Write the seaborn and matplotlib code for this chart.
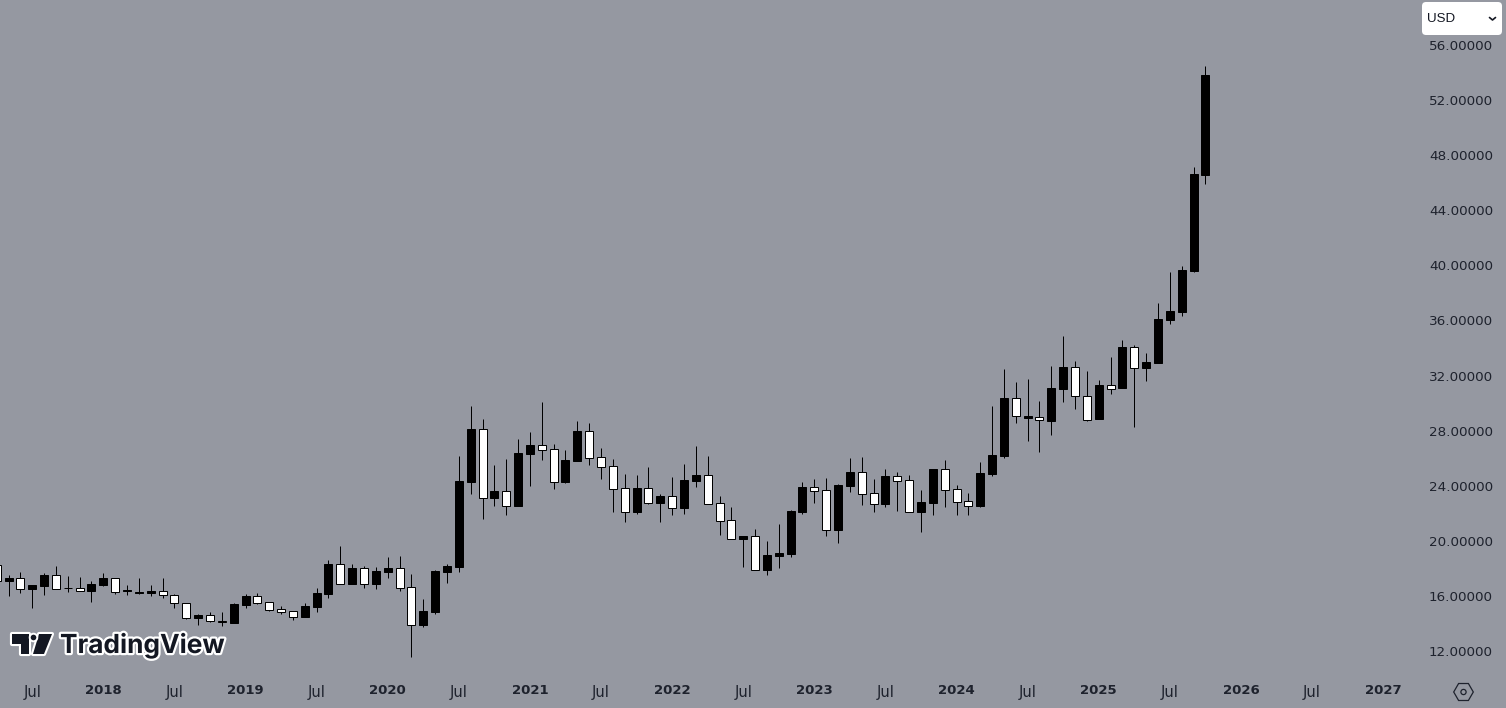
#!/usr/bin/python3
import pandas as pd
import numpy as np
import matplotlib
matplotlib.use('Agg')
import matplotlib.pyplot as plt
from matplotlib.patches import Polygon, Circle, RegularPolygon, FancyBboxPatch
from matplotlib.transforms import Affine2D
import matplotlib.patheffects as pe
import seaborn as sns

### DATA ###
months = pd.period_range('2017-04', '2025-10', freq='M')

opens = [18.24, 17.08, 17.28, 16.52, 16.72, 17.50, 16.54, 16.60, 16.36, 16.80, 17.28, 16.33, 16.21, 16.21, 16.33, 16.04, 15.46,
         14.42, 14.59, 14.18, 14.05, 15.36, 15.97, 15.54, 15.03, 14.88, 14.49, 15.22, 16.14, 18.30, 16.89, 18.00, 16.86, 17.74,
         18.00, 16.63, 13.89, 14.83, 17.74, 18.12, 24.27, 28.10, 23.11, 23.60, 22.53, 26.30, 26.94, 26.65, 24.27, 25.80, 27.95,
         26.06, 25.41, 23.81, 22.09, 23.81, 22.75, 23.23, 22.38, 24.34, 24.76, 22.72, 21.49, 20.13, 20.33, 17.88, 18.90, 19.04,
         22.09, 23.89, 23.67, 20.79, 23.98, 24.98, 23.45, 22.67, 24.69, 24.39, 22.09, 22.75, 25.19, 23.74, 22.87, 22.53, 24.85,
         26.16, 30.35, 28.92, 28.97, 28.70, 31.02, 32.60, 30.49, 28.85, 31.29, 31.10, 34.05, 32.55, 32.91, 36.03, 36.61, 39.59,
         46.56]
highs = [18.30, 17.52, 17.76, 16.82, 17.64, 18.17, 17.45, 17.37, 17.06, 17.66, 17.30, 16.77, 17.30, 16.77, 17.30, 16.14, 15.48,
         14.66, 14.81, 14.81, 15.46, 16.12, 16.21, 15.56, 15.27, 14.90, 15.49, 16.57, 18.61, 19.62, 18.32, 18.17, 18.10, 18.83,
         18.90, 17.59, 15.78, 17.88, 18.32, 26.16, 29.79, 28.85, 25.51, 25.94, 27.39, 27.90, 30.08, 27.03, 26.59, 28.70, 28.56,
         26.74, 25.94, 24.85, 24.78, 25.36, 23.40, 24.63, 25.58, 26.89, 26.16, 23.25, 22.46, 20.35, 20.86, 19.99, 21.22, 22.24,
         24.27, 24.49, 24.56, 24.13, 26.01, 26.09, 24.49, 25.22, 25.00, 24.78, 23.69, 25.24, 25.87, 24.05, 23.47, 25.72, 29.79,
         32.48, 31.53, 31.75, 30.15, 32.69, 34.87, 33.06, 32.33, 31.68, 33.35, 34.58, 34.22, 33.64, 37.27, 39.52, 39.95, 47.14,
         54.48]
lows = [16.90, 15.99, 16.23, 15.12, 16.09, 16.50, 16.28, 16.34, 15.58, 16.72, 16.16, 16.09, 16.16, 16.02, 15.87, 15.12, 14.32,
        13.91, 14.14, 13.82, 14.03, 15.12, 15.41, 14.90, 14.69, 14.25, 14.47, 14.83, 15.85, 16.87, 16.87, 16.57, 16.50, 17.30,
        16.36, 11.56, 13.74, 14.69, 16.94, 17.74, 23.40, 21.58, 22.53, 21.88, 22.51, 23.98, 25.87, 23.76, 24.20, 25.78, 25.51,
        24.49, 22.09, 21.37, 21.95, 22.67, 21.37, 21.88, 21.95, 23.91, 22.68, 20.42, 20.13, 18.10, 17.88, 17.52, 18.03, 18.83,
        21.95, 22.75, 20.35, 19.84, 23.54, 22.60, 22.09, 22.46, 22.17, 22.09, 20.64, 21.88, 22.46, 21.88, 21.88, 22.46, 24.71,
        26.01, 28.56, 27.25, 26.45, 27.68, 30.08, 29.57, 28.70, 28.83, 30.66, 31.08, 28.26, 31.60, 32.89, 35.74, 36.32, 39.52,
        45.91]
closes = [17.10, 17.30, 16.52, 16.79, 17.52, 16.52, 16.61, 16.36, 16.84, 17.28, 16.31, 16.41, 16.28, 16.36, 16.04, 15.46, 14.42,
          14.61, 14.16, 14.11, 15.41, 15.97, 15.51, 15.00, 14.85, 14.49, 15.27, 16.21, 18.32, 16.89, 18.03, 16.89, 17.81, 18.03,
          16.60, 13.91, 14.90, 17.81, 18.17, 24.34, 28.12, 23.13, 23.62, 22.53, 26.38, 26.96, 26.62, 24.29, 25.87, 27.97, 26.04,
          25.38, 23.78, 22.11, 23.84, 22.77, 23.25, 22.40, 24.42, 24.78, 22.70, 21.46, 20.15, 20.33, 17.90, 18.97, 19.12, 22.17,
          23.91, 23.62, 20.81, 24.05, 25.00, 23.42, 22.70, 24.71, 24.37, 22.11, 22.82, 25.22, 23.71, 22.84, 22.55, 24.92, 26.23,
          30.37, 29.09, 29.06, 28.79, 31.10, 32.62, 30.54, 28.79, 31.31, 31.05, 34.07, 32.57, 32.98, 36.11, 36.69, 39.66, 46.64,
          53.82]

price_ticks = [12, 16, 20, 24, 28, 32, 36, 40, 44, 48, 52, 56]
time_ticks = ['2017-07', '2018-01', '2018-07', '2019-01', '2019-07', '2020-01', '2020-07', '2021-01', '2021-07', '2022-01',
              '2022-07', '2023-01', '2023-07', '2024-01', '2024-07', '2025-01', '2025-07', '2026-01', '2026-07', '2027-01']

bg = '#9598A1'
ink = '#131722'
W, H = 1506, 708


def px():
    # pixel coords, origin top left like the screenshot
    return Affine2D().scale(1, -1).translate(0, H)


### BUILD ###
df = pd.DataFrame({'open': opens, 'high': highs, 'low': lows, 'close': closes})
df['idx'] = [(m - months[0]).n for m in months]
df['bottom'] = df[['open', 'close']].min(axis=1)
df['height'] = (df['open'] - df['close']).abs()
df['up'] = df['close'] >= df['open']

sns.set_theme(style='white', rc={'axes.facecolor': bg, 'figure.facecolor': bg, 'font.family': 'DejaVu Sans'})

fig = plt.figure(figsize=(W / 100, H / 100), dpi=100)
ax = fig.add_axes([0, 1 - 678 / H, 1416 / W, 678 / H])

ax.vlines(df['idx'], df['low'], df['high'], color='black', lw=0.72, zorder=1, snap=True)

# one barplot per colour, bottom has to line up with the subset
for is_up, color in [(True, 'black'), (False, 'white')]:
    part = df[df['up'] == is_up].reset_index(drop=True)
    spacing = part['idx'].diff().min()
    sns.barplot(data=part, x='idx', y='height', bottom=part['bottom'], color=color, native_scale=True,
                width=0.675 / spacing, errorbar=None, edgecolor='black', linewidth=0.72, saturation=1, ax=ax, zorder=2)

ax.set_xlim(0.28, 0.28 + 1416 / 11.85)
ax.set_ylim(10.04, 59.27)
ax.set_xlabel('')
ax.set_ylabel('')
sns.despine(ax=ax, left=True, bottom=True)

# axis labels
ax.yaxis.tick_right()
ax.set_yticks(price_ticks)
ax.set_yticklabels([f'{v:.5f}' for v in price_ticks])
ax.tick_params(axis='y', length=0, pad=9.4, labelsize=9.7, labelcolor='#1e222d')

tick_pos = [(pd.Period(t, 'M') - months[0]).n for t in time_ticks]
ax.set_xticks(tick_pos)
ax.set_xticklabels(['Jul' if t.endswith('-07') else t[:4] for t in time_ticks])
ax.tick_params(axis='x', length=0, pad=5.2, labelsize=10.6, labelcolor='#1e222d')
for lab, t in zip(ax.get_xticklabels(), time_ticks):
    if t.endswith('-01'):
        lab.set_fontweight('bold')
        lab.set_fontsize(9.5)
        lab.set_y(0.002)

# watermark
tr = px()
stroke = [pe.withStroke(linewidth=3.2, foreground='white')]
logo_t = [(12, 634), (29, 634), (29, 654), (20.5, 654), (20.5, 644), (12, 644)]
logo_s = [(39, 634), (52, 634), (44, 654), (33, 654)]
for pts in (logo_t, logo_s):
    fig.add_artist(Polygon(pts, closed=True, transform=tr, fc=ink, ec='white', lw=3, zorder=5, joinstyle='round'))
    fig.add_artist(Polygon(pts, closed=True, transform=tr, fc=ink, ec='none', zorder=6))
fig.add_artist(Circle((33.5, 637.5), 3.8, transform=tr, fc=ink, ec='white', lw=1.4, zorder=6))
fig.text(60 / W, 1 - 645.5 / H, 'TradingView', fontsize=18.9, fontweight='bold', family='Inter', color=ink,
         va='center', ha='left', zorder=6, path_effects=stroke)

# currency box
fig.add_artist(FancyBboxPatch((1425, 5), 74, 27, boxstyle='round,pad=3,rounding_size=4', transform=tr,
                              fc='white', ec='none', zorder=7))
fig.text(1427.5 / W, 1 - 18.5 / H, 'USD', fontsize=9.6, family='Liberation Sans', color=ink, va='center', zorder=8)
fig.add_artist(plt.Line2D([1489.5, 1492.5, 1495.5], [17.5, 20, 17.5], transform=tr, color=ink, lw=1.2, zorder=8))

# settings icon
fig.add_artist(RegularPolygon((1463.5, 692), 6, radius=9.8, orientation=np.pi / 2, transform=tr, fc='none',
                              ec='#1e222d', lw=0.9, zorder=8))
fig.add_artist(Circle((1463.5, 692), 2.6, transform=tr, fc='none', ec='#1e222d', lw=0.9, zorder=8))

fig.savefig('out.png', dpi=100, facecolor=bg)
